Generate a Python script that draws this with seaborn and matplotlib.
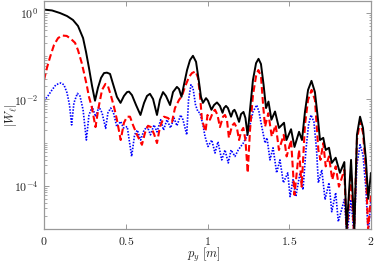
import numpy as np
import pandas as pd
import matplotlib
matplotlib.use("Agg")
import matplotlib.pyplot as plt
import matplotlib.ticker as mticker
import seaborn as sns

# ---- data (x = p_y, values given as log10|W|) ----
black_x = [0.000, 0.049, 0.098, 0.141, 0.177, 0.208, 0.239, 0.257, 0.275, 0.294,
           0.312, 0.330, 0.349, 0.367, 0.385, 0.404, 0.422, 0.446, 0.468, 0.489,
           0.508, 0.520, 0.538, 0.563, 0.590, 0.612, 0.630, 0.648, 0.667, 0.691,
           0.709, 0.728, 0.746, 0.771, 0.789, 0.813, 0.826, 0.841, 0.856, 0.875,
           0.893, 0.911, 0.930, 0.948, 0.960, 0.972, 0.991, 1.003, 1.024, 1.040,
           1.058, 1.076, 1.092, 1.101, 1.113, 1.125, 1.144, 1.156, 1.165, 1.174,
           1.193, 1.205, 1.220, 1.232, 1.245, 1.260, 1.278, 1.297, 1.312, 1.327,
           1.343, 1.358, 1.373, 1.391, 1.413, 1.437, 1.468, 1.483, 1.511, 1.532,
           1.560, 1.578, 1.596, 1.615, 1.636, 1.657, 1.676, 1.688, 1.708, 1.723,
           1.743, 1.760, 1.784, 1.810, 1.837, 1.851, 1.878, 1.898, 1.914, 1.933,
           1.951, 1.969, 1.983, 2.000]
black_log = [0.08, 0.06, 0.00, -0.07, -0.16, -0.30, -0.58, -0.90, -1.27, -1.69,
             -2.03, -1.73, -1.50, -1.39, -1.38, -1.41, -1.64, -1.94, -2.08, -1.92,
             -1.83, -1.82, -1.90, -2.13, -2.36, -2.08, -1.92, -1.87, -1.99, -2.36,
             -2.01, -1.83, -1.92, -2.13, -1.83, -1.71, -1.76, -1.94, -1.66, -1.32,
             -1.09, -0.99, -1.13, -1.60, -1.94, -2.08, -1.97, -2.03, -2.24, -2.13,
             -2.07, -2.15, -2.31, -2.20, -2.15, -2.20, -2.40, -2.27, -2.24, -2.31,
             -2.52, -2.34, -2.29, -2.43, -2.82, -2.24, -1.55, -1.16, -1.06, -1.18,
             -1.66, -2.20, -2.05, -2.47, -2.28, -2.66, -2.54, -2.94, -2.69, -3.10,
             -2.75, -2.94, -2.29, -1.78, -1.57, -1.83, -2.47, -2.94, -2.89, -3.17,
             -3.12, -3.47, -3.35, -3.70, -3.45, -5.02, -3.40, -5.02, -2.82, -2.40,
             -2.66, -3.40, -4.30, -3.70]

red_x = [0.000, 0.018, 0.037, 0.061, 0.086, 0.110, 0.139, 0.165, 0.190, 0.208,
         0.231, 0.245, 0.261, 0.275, 0.292, 0.315, 0.333, 0.355, 0.376, 0.391,
         0.410, 0.428, 0.446, 0.469, 0.489, 0.508, 0.526, 0.544, 0.569, 0.599,
         0.618, 0.636, 0.654, 0.673, 0.691, 0.709, 0.734, 0.758, 0.783, 0.801,
         0.826, 0.844, 0.862, 0.887, 0.905, 0.927, 0.942, 0.954, 0.966, 0.988,
         1.000, 1.015, 1.034, 1.046, 1.061, 1.076, 1.095, 1.107, 1.119, 1.131,
         1.150, 1.164, 1.180, 1.193, 1.205, 1.219, 1.232, 1.246, 1.260, 1.278,
         1.297, 1.311, 1.327, 1.341, 1.352, 1.372, 1.393, 1.417, 1.437, 1.466,
         1.484, 1.511, 1.532, 1.560, 1.576, 1.596, 1.615, 1.637, 1.657, 1.678,
         1.691, 1.708, 1.723, 1.743, 1.763, 1.784, 1.804, 1.837, 1.851, 1.878,
         1.896, 1.914, 1.933, 1.951, 1.969, 1.982, 2.000]
red_log = [-1.55, -1.27, -1.02, -0.74, -0.58, -0.52, -0.53, -0.60, -0.69, -0.86,
           -1.16, -1.39, -1.66, -1.94, -2.17, -2.64, -2.20, -1.78, -1.64, -1.69,
           -1.92, -2.17, -2.47, -2.94, -2.54, -2.40, -2.40, -2.59, -2.82, -3.05,
           -2.77, -2.61, -2.64, -2.80, -3.01, -2.64, -2.40, -2.43, -2.52, -2.20,
           -2.01, -1.92, -1.71, -1.48, -1.39, -1.35, -1.50, -1.90, -2.47, -2.74,
           -2.36, -2.47, -2.29, -2.24, -2.36, -2.64, -2.40, -2.36, -2.47, -2.89,
           -2.61, -2.55, -2.66, -2.94, -2.75, -2.66, -2.94, -3.70, -2.71, -1.90,
           -1.46, -1.32, -1.46, -2.17, -2.63, -2.32, -2.86, -2.59, -3.17, -2.82,
           -3.32, -2.94, -4.21, -3.17, -4.02, -2.59, -2.01, -1.78, -2.01, -3.17,
           -3.40, -3.01, -3.55, -3.32, -3.86, -3.55, -4.02, -3.63, -5.13, -3.70,
           -5.13, -2.94, -2.51, -2.77, -3.63, -5.02, -4.23]

blue_x = [0.000, 0.024, 0.049, 0.073, 0.102, 0.122, 0.141, 0.156, 0.169, 0.183,
          0.204, 0.220, 0.239, 0.259, 0.275, 0.295, 0.316, 0.336, 0.355, 0.377,
          0.391, 0.408, 0.425, 0.445, 0.469, 0.486, 0.509, 0.536, 0.554, 0.571,
          0.591, 0.612, 0.632, 0.651, 0.673, 0.691, 0.714, 0.731, 0.752, 0.774,
          0.795, 0.813, 0.836, 0.850, 0.873, 0.884, 0.899, 0.911, 0.927, 0.942,
          0.954, 0.972, 0.985, 1.003, 1.026, 1.046, 1.064, 1.087, 1.107, 1.127,
          1.144, 1.168, 1.188, 1.219, 1.240, 1.260, 1.278, 1.301, 1.315, 1.332,
          1.352, 1.364, 1.382, 1.401, 1.423, 1.443, 1.464, 1.491, 1.505, 1.523,
          1.540, 1.566, 1.584, 1.602, 1.618, 1.633, 1.651, 1.667, 1.678, 1.699,
          1.719, 1.743, 1.760, 1.784, 1.800, 1.837, 1.853, 1.878, 1.896, 1.914,
          1.933, 1.951, 1.969, 1.983, 2.000]
blue_log = [-2.03, -1.92, -1.78, -1.66, -1.62, -1.66, -1.85, -2.13, -2.59, -2.08,
            -1.86, -1.92, -2.24, -2.94, -2.36, -2.17, -2.40, -2.17, -2.31, -2.67,
            -2.31, -2.20, -2.31, -2.63, -2.51, -2.66, -2.63, -3.32, -2.82, -2.71,
            -2.94, -2.71, -2.63, -2.82, -2.59, -2.75, -2.47, -2.71, -2.47, -2.66,
            -2.43, -2.61, -2.36, -2.47, -2.82, -2.01, -1.66, -1.73, -2.13, -2.29,
            -2.31, -2.59, -2.86, -3.09, -2.94, -3.24, -2.98, -3.40, -3.17, -3.47,
            -3.17, -3.32, -3.17, -3.01, -2.86, -2.59, -2.29, -2.13, -2.29, -2.63,
            -3.01, -2.89, -3.40, -3.12, -3.70, -3.40, -3.93, -3.70, -4.25, -3.86,
            -4.25, -3.70, -4.09, -3.17, -2.59, -2.36, -2.52, -3.17, -3.93, -3.63,
            -4.32, -3.93, -4.60, -4.16, -4.83, -4.32, -5.13, -4.32, -5.13, -3.51,
            -3.05, -3.28, -4.09, -5.13, -4.32]

x_ticks = [0, 0.5, 1, 1.5, 2]
x_tick_labels = ["$0$", "$0.5$", "$1$", "$1.5$", "$2$"]
y_ticks = [1e0, 1e-2, 1e-4]
y_tick_labels = ["$10^{0}$", "$10^{-2}$", "$10^{-4}$"]

df = pd.concat([
    pd.DataFrame({"p": black_x, "W": np.power(10.0, black_log), "s": "black"}),
    pd.DataFrame({"p": red_x, "W": np.power(10.0, red_log), "s": "red"}),
    pd.DataFrame({"p": blue_x, "W": np.power(10.0, blue_log), "s": "blue"}),
], ignore_index=True)

sns.set_style("ticks")
plt.rcParams["mathtext.fontset"] = "cm"
plt.rcParams["font.family"] = ["DejaVu Serif"]

fig = plt.figure(figsize=(3.74, 2.64), dpi=100)
ax = fig.add_axes([44 / 374, 35 / 264, 327 / 374, 228 / 264])

styles = {"black": ("#000000", "-", 1.4),
          "red": ("#ff0000", (0, (3.2, 1.6)), 1.5),
          "blue": ("#0000ff", (0, (0.9, 0.9)), 1.2)}
for name in ["blue", "red", "black"]:
    c, ls, lw = styles[name]
    sns.lineplot(data=df[df["s"] == name], x="p", y="W", ax=ax, color=c,
                 linestyle=ls, linewidth=lw, sort=False, estimator=None,
                 legend=False)

ax.set_yscale("log")
ax.set_xlim(0, 2)
ax.set_ylim(1e-5, 1.9)
ax.set_xticks(x_ticks)
ax.set_xticklabels(x_tick_labels)
ax.yaxis.set_major_locator(mticker.FixedLocator(y_ticks))
ax.yaxis.set_major_formatter(mticker.FixedFormatter(y_tick_labels))
ax.yaxis.set_minor_locator(mticker.LogLocator(base=10, subs=np.arange(1, 10), numticks=20))
ax.yaxis.set_minor_formatter(mticker.NullFormatter())

ax.tick_params(which="both", direction="in", top=True, right=True,
               colors="#888888", labelcolor="#222222", labelsize=8.5)
ax.tick_params(which="major", length=3.5, width=0.6, pad=4)
ax.tick_params(which="minor", length=1.8, width=0.5)
for sp in ax.spines.values():
    sp.set_color("#999999")
    sp.set_linewidth(0.9)

ax.set_xlabel(r"$p_y\ [m]$", fontsize=9, color="#222222")
ax.set_ylabel(r"$|W_\ell|$", fontsize=9, color="#222222")
ax.xaxis.set_label_coords(0.49, -0.075)
ax.yaxis.set_label_coords(-0.075, 0.50)

fig.savefig("out.png", dpi=100)
